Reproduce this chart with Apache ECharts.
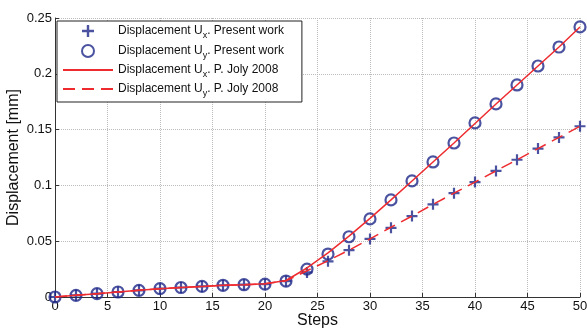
<!DOCTYPE html>
<html>
<head>
<meta charset="utf-8">
<script src="https://cdn.jsdelivr.net/npm/echarts@6/dist/echarts.min.js"></script>
<style>
html, body { margin: 0; padding: 0; background: #fff; }
#main { width: 587px; height: 329px; }
</style>
</head>
<body>
<div id="main"></div>
<script>
// load steps
var steps = [0, 2, 4, 6, 8, 10, 12, 14, 16, 18, 20, 22, 24, 26, 28, 30, 32, 34, 36, 38, 40, 42, 44, 46, 48, 50];

// present work
var uxPresent = [0, 0.0015, 0.003, 0.0045, 0.006, 0.0075, 0.0085, 0.0095, 0.0105, 0.011, 0.0115, 0.0143, 0.022, 0.032, 0.042, 0.052, 0.062, 0.0725, 0.083, 0.093, 0.103, 0.113, 0.123, 0.133, 0.143, 0.153];
var uyPresent = [0, 0.0015, 0.003, 0.0045, 0.006, 0.0075, 0.0085, 0.0095, 0.0105, 0.011, 0.0116, 0.0143, 0.025, 0.0385, 0.054, 0.070, 0.087, 0.104, 0.121, 0.138, 0.156, 0.173, 0.190, 0.207, 0.224, 0.242];

// P. Joly 2008 (solid curve follows the circles, dashed follows the crosses)
var jolySolid = [0, 0.0015, 0.003, 0.0045, 0.006, 0.0075, 0.0085, 0.0095, 0.0105, 0.011, 0.0118, 0.0148, 0.026, 0.0395, 0.0545, 0.0705, 0.087, 0.104, 0.121, 0.138, 0.1555, 0.173, 0.190, 0.207, 0.224, 0.242];
var jolyDashed = [0, 0.0015, 0.003, 0.0045, 0.006, 0.0075, 0.0085, 0.0095, 0.0105, 0.011, 0.0118, 0.0145, 0.0235, 0.0325, 0.042, 0.052, 0.0625, 0.0725, 0.083, 0.093, 0.103, 0.113, 0.123, 0.133, 0.143, 0.153];

var yTicks = [0, 0.05, 0.1, 0.15, 0.2, 0.25];

function pairs(ys) {
  return steps.map(function (s, i) { return [s, ys[i]]; });
}

var navy = "#1e2888";
var red = "#ee2b2f";
var font = "Liberation Sans, Arial, sans-serif";
var plusPath = "path://M4,0h2v4h4v2h-4v4h-2v-4h-4v-2h4z";

var myChart = echarts.init(document.getElementById("main"));

var option = {
  backgroundColor: "#fff",
  animation: false,
  textStyle: { fontFamily: font },
  grid: {
    left: 55,
    right: 7,
    top: 18,
    bottom: 32,
    containLabel: false,
    outerBoundsMode: "none",
  },
  legend: {
    orient: "vertical",
    left: 57,
    top: 21,
    padding: [4, 18, 4, 5],
    itemWidth: 50,
    itemHeight: 12,
    itemGap: 4,
    backgroundColor: "#fff",
    borderColor: "#222",
    borderWidth: 1,
    data: [
      { name: "Displacement Ux. Present work" },
      { name: "Displacement Uy. Present work" },
      { name: "Displacement Ux. P. Joly 2008", itemStyle: { opacity: 0 } },
      { name: "Displacement Uy. P. Joly 2008", itemStyle: { opacity: 0 } },
    ],
    formatter: function (name) {
      var m = name.match(/^(Displacement U)([xy])(.*)$/);
      return "{a|" + m[1] + "}{s|" + m[2] + "}{a|" + m[3] + "}";
    },
    textStyle: {
      color: "#111",
      rich: {
        a: { fontSize: 12, fontFamily: font, color: "#111" },
        s: { fontSize: 9, fontFamily: font, color: "#111", padding: [9, 0, 0, 0] },
      },
    },
  },
  xAxis: {
    type: "value",
    min: 0,
    max: 50,
    interval: 5,
    name: "Steps",
    nameLocation: "middle",
    nameMoveOverlap: false,
    nameGap: 16,
    nameTextStyle: { fontSize: 16, color: "#111", fontFamily: font, verticalAlign: "top" },
    axisLine: { show: true, onZero: false, lineStyle: { color: "#333", width: 1 } },
    axisTick: { show: true, inside: true, length: 4, lineStyle: { color: "#333" } },
    axisLabel: { fontSize: 13, color: "#111", margin: 3, fontFamily: font },
    splitLine: { show: true, lineStyle: { color: "#bbb", type: "dotted", width: 1 } },
  },
  yAxis: {
    type: "value",
    min: 0,
    max: 0.25,
    interval: 0.05,
    name: "Displacement [mm]",
    nameLocation: "middle",
    nameMoveOverlap: false,
    nameGap: 33,
    nameTextStyle: { fontSize: 16, color: "#111", fontFamily: font },
    axisLine: { show: true, onZero: false, lineStyle: { color: "#333", width: 1 } },
    axisTick: { show: true, inside: true, length: 4, lineStyle: { color: "#333" } },
    axisLabel: {
      fontSize: 13,
      color: "#111",
      margin: 3,
      fontFamily: font,
      formatter: function (v) {
        var t = yTicks.filter(function (k) { return Math.abs(k - v) < 1e-9; });
        return t.length ? String(t[0]) : "";
      },
    },
    splitLine: { show: true, lineStyle: { color: "#bbb", type: "dotted", width: 1 } },
  },
  series: [
    {
      name: "Displacement Ux. Present work",
      type: "scatter",
      symbol: plusPath,
      symbolSize: 11,
      itemStyle: { color: navy },
      z: 2,
      data: pairs(uxPresent),
    },
    {
      name: "Displacement Uy. Present work",
      type: "scatter",
      symbol: "circle",
      symbolSize: 11,
      itemStyle: { color: "rgba(0,0,0,0)", borderColor: navy, borderWidth: 2.2 },
      z: 2,
      data: pairs(uyPresent),
    },
    {
      name: "Displacement Ux. P. Joly 2008",
      type: "line",
      symbol: "none",
      lineStyle: { color: red, width: 1.5 },
      itemStyle: { color: red },
      z: 3,
      data: pairs(jolySolid),
    },
    {
      name: "Displacement Uy. P. Joly 2008",
      type: "line",
      symbol: "none",
      lineStyle: { color: red, width: 1.5, type: [12, 7] },
      itemStyle: { color: red },
      z: 3,
      data: pairs(jolyDashed),
    },
  ],
};

myChart.setOption(option);
window.addEventListener("resize", function () {
  myChart.resize();
});
</script>
</body>
</html>
